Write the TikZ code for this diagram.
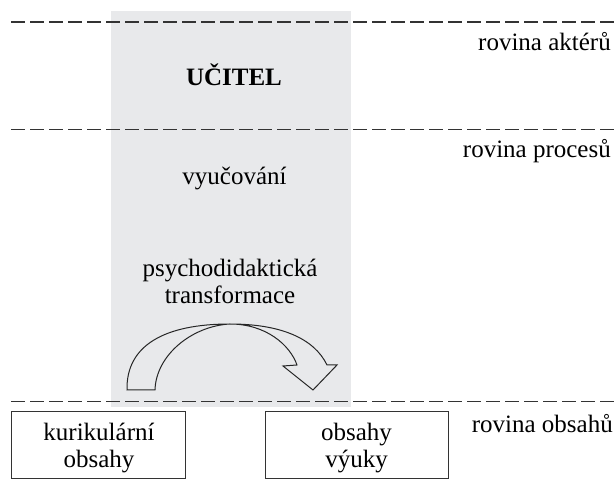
\documentclass[tikz,border=0pt]{standalone}
\usepackage{fontspec}
\setmainfont{Liberation Serif}
\begin{document}
\begin{tikzpicture}[x=1pt,y=-1pt,
  txt/.style={font=\fontsize{25}{27}\selectfont, inner sep=0pt},
  level/.style={txt, anchor=base east},
  layer/.style={draw=black!80, line width=1.7pt, dash pattern=on 13.5pt off 5.5pt},
  contentbox/.style={draw=black!80, line width=1pt, minimum height=67pt, inner sep=0pt},
  band/.style={fill=bandgray, draw=none}]
\definecolor{bandgray}{RGB}{232,233,235}
\useasboundingbox (0,0) rectangle (614,486);

% teacher's band
\fill[band] (110.5,11) rectangle (350.5,407);

% layer separators
\draw[layer] (11,22) -- (614,22);
\draw[layer] (11,129.5) -- (614,129.5);
\draw[layer] (11,401.5) -- (614,401.5);

% layer names
\node[level] (actors)    at (611,51)  {rovina aktérů};
\node[level] (processes) at (611,158) {rovina procesů};
\node[level] (contents)  at (613,433) {rovina obsahů};

% band texts (base anchor = baseline of the last line)
\node[txt, anchor=base, font=\fontsize{25}{27}\selectfont\bfseries] (teacher) at (234,86) {UČITEL};
\node[txt, anchor=base] (teaching) at (234.5,185) {vyučování};
\node[txt, align=center, anchor=base] (transf) at (230,304) {psychodidaktická\\transformace};

% content boxes
\node[contentbox, minimum width=174pt] (curr) at (98,445.5) {};
\node[contentbox, minimum width=183pt] (instr) at (356.5,445.5) {};
\node[txt, align=center, anchor=base] (currtxt) at (99,468) {kurikulární\\obsahy};
\node[txt, align=center, anchor=base] (instrtxt) at (356.5,468) {obsahy\\výuky};

% curved block arrow
\coordinate (top) at (230,324);
\draw[black!85, line width=1pt, line join=miter]
  (127,390) .. controls (126,345) and (165,324) .. (top)
  .. controls (266,324) and (290,345) .. (297,365)
  -- (283,366) -- (313,390) -- (337,365) -- (327,365)
  .. controls (314,338) and (280,324) .. (top)
  .. controls (192,326) and (156,355) .. (155,390)
  -- cycle;
\end{tikzpicture}
\end{document}
